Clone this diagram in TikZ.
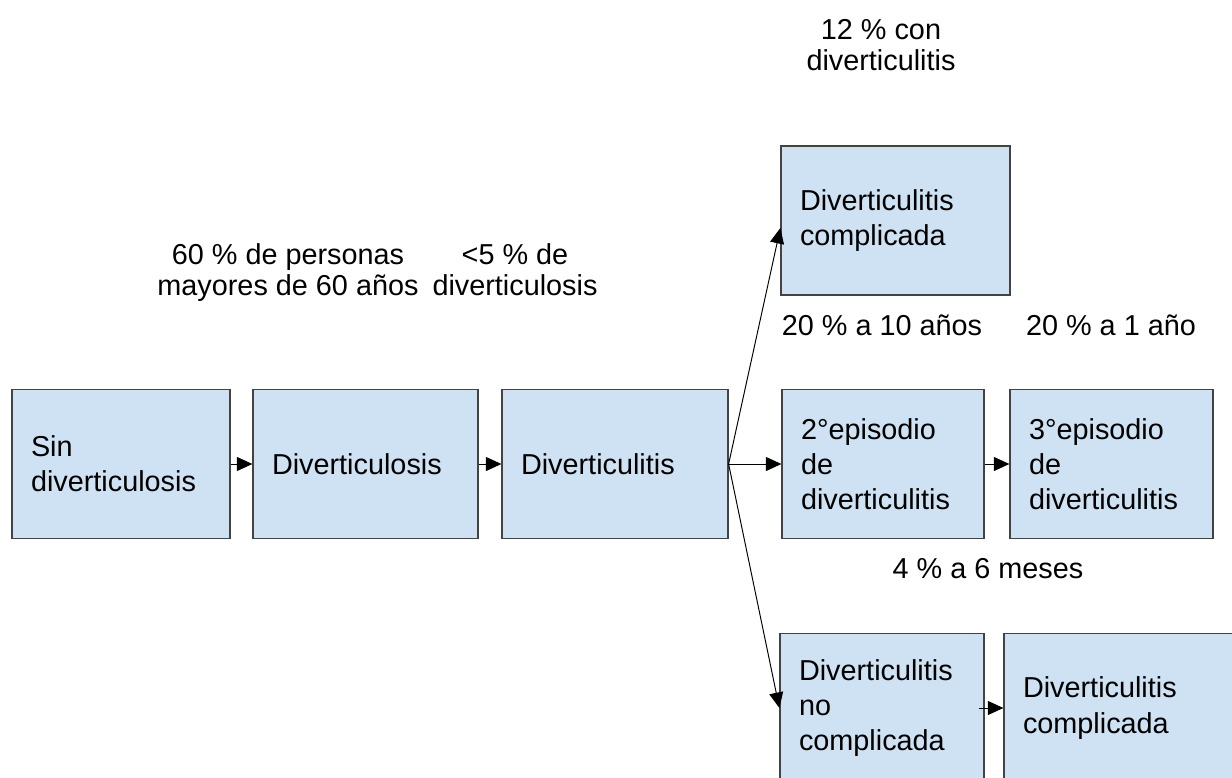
\documentclass[tikz,border=0pt]{standalone}
\usepackage{fontspec}
\setmainfont{Liberation Sans}
\usetikzlibrary{arrows.meta}
\definecolor{boxblue}{RGB}{207,226,243}
\definecolor{boxline}{RGB}{67,67,67}

\begin{document}
\begin{tikzpicture}[>={Triangle[length=0.31cm,width=0.28cm]}]
    \tikzstyle{stage} = [rectangle, draw=boxline, line width=0.7pt, fill=boxblue, minimum height=2.98cm, inner xsep=0.38cm, inner ysep=0pt, align=left, font=\fontsize{16.4}{20}\selectfont]
    \tikzstyle{note} = [align=center, font=\fontsize{16.4}{17.6}\selectfont]
    \tikzstyle{link} = [->, line width=0.55pt]

    \useasboundingbox (0,0) rectangle (24.64,-15.56);

    % Main chain, left to right
    \node [stage, text width=3.6cm] (sin) at (2.42,-9.28) {Sin\\diverticulosis};
    \node [stage, text width=3.74cm] (dosis) at (7.31,-9.28) {Diverticulosis};
    \node [stage, text width=3.76cm] (ditis) at (12.3,-9.28) {Diverticulitis};

    % Outcomes after the first episode
    \node [stage, text width=3.82cm] (compltop) at (17.91,-4.41) {Diverticulitis\\complicada};
    \node [stage, text width=3.28cm] (epi2) at (17.66,-9.28) {2°episodio\\de\\diverticulitis};
    \node [stage, text width=3.30cm] (epi3) at (22.23,-9.28) {3°episodio\\de\\diverticulitis};
    \node [stage, text width=3.32cm] (nocompl) at (17.64,-14.16) {Diverticulitis\\no\\complicada};
    \node [stage, text width=3.82cm] (complbot) at (22.37,-14.16) {Diverticulitis\\complicada};

    % Percentages
    \node [note] (pct12) at (17.62,-0.9) {12 \% con\\diverticulitis};
    \node [note] (pct60) at (5.76,-5.45) {60 \% de personas\\mayores de 60 años};
    \node [note] (pct5) at (10.3,-5.39) {<5 \% de\\diverticulosis};
    \node [note, anchor=base] (pct20a) at (17.64,-6.70) {20 \% a 10 años};
    \node [note, anchor=base] (pct20b) at (22.22,-6.70) {20 \% a 1 año};
    \node [note, anchor=base] (pct4) at (19.76,-11.56) {4 \% a 6 meses};

    % Connectors
    \draw [link] (sin) -- (dosis);
    \draw [link] (dosis) -- (ditis);
    \draw [link] (ditis.east) -- ([yshift=-0.15cm]compltop.west);
    \draw [link] (ditis.east) -- (epi2.west);
    \draw [link] (ditis.east) -- (nocompl.west);
    \draw [link] (epi2) -- (epi3);
    \draw [link] ([xshift=-0.12cm]nocompl.east) -- (complbot.west);
\end{tikzpicture}
\end{document}
